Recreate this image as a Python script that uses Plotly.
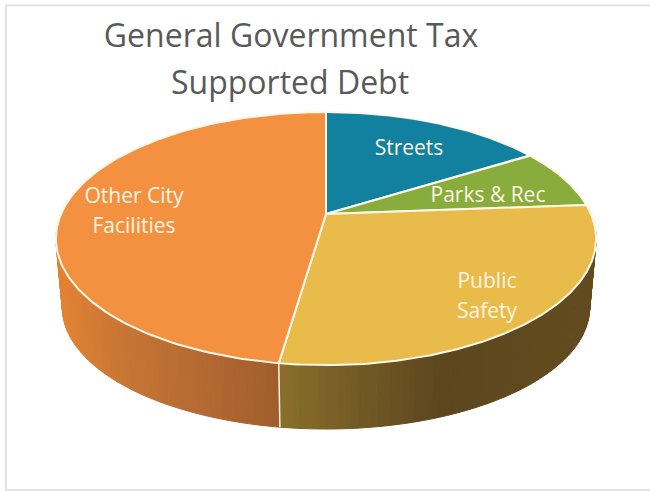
import numpy as np
import plotly.graph_objects as go

# Debt shares by purpose, percent of the total, clockwise from twelve o'clock
categories = ["Streets", "Parks & Rec", "Public Safety", "Other City Facilities"]
shares = [16.1, 7.7, 28.5, 47.7]
face_colors = ["#12809f", "#88ad3c", "#e8bb4a", "#f39140"]

# Caption lines drawn on the slices
caption_lines = ["Streets", "Parks & Rec", "Public", "Safety", "Other City", "Facilities"]
caption_x = [409, 488, 487, 487, 134, 134]
caption_y = [150, 197, 283, 313, 198, 228]

# Rim shading as (pixel x, colour) stops, per slice that shows a rim
rim_stops = {
    2: [(277, (138, 112, 42)), (340, (120, 94, 38)), (440, (92, 70, 30)), (600, (98, 76, 30))],
    3: [(56, (228, 132, 50)), (120, (200, 118, 52)), (200, (180, 106, 50)), (278, (160, 94, 44))],
}

# Tilted-disc projection, in page pixels
CX, CY = 326.0, 214.0
HALF_W, HALF_H, PERSP = 265.0, 121.8, 0.194
RIM_CY0, RIM_CY1, RIM_SX, RIM_SY = 238.0, 307.0, 0.976, 0.96


def top_face(theta):
    u, v = np.sin(theta), np.cos(theta)
    d = 1 + PERSP * v
    return CX + HALF_W * u / d, CY - HALF_H * v / d


def bottom_face(theta):
    x, y = top_face(theta)
    return CX + RIM_SX * (x - CX), RIM_CY1 + RIM_SY * (y - RIM_CY0)


def rim_color(slice_index, x):
    stops = rim_stops[slice_index]
    xs = [s[0] for s in stops]
    rgb = [np.interp(x, xs, [s[1][k] for s in stops]) for k in range(3)]
    return "rgb(%d,%d,%d)" % tuple(int(round(c)) for c in rgb)


edges = np.concatenate([[0.0], np.cumsum(shares)]) / sum(shares) * 2 * np.pi
fig = go.Figure()

# Rim strips, shaded by horizontal position
for i in rim_stops:
    start = max(edges[i], np.pi * 0.35)
    end = min(edges[i + 1], np.pi * 1.65)
    steps = np.linspace(start, end, 90)
    for a, b in zip(steps[:-1], steps[1:]):
        tx, ty = top_face(np.array([a, b]))
        bx, by = bottom_face(np.array([b, a]))
        color = rim_color(i, (tx.mean() + bx.mean()) / 2)
        fig.add_trace(go.Scatter(
            x=list(tx) + list(bx) + [tx[0]], y=list(ty) + list(by) + [ty[0]],
            mode="lines", fill="toself", fillcolor=color,
            line=dict(color=color, width=1), hoverinfo="skip", showlegend=False,
        ))

# Seam where the two rims meet
seam = edges[3]
sx0, sy0 = top_face(seam)
sx1, sy1 = bottom_face(seam)
fig.add_trace(go.Scatter(
    x=[sx0, sx1], y=[sy0, sy1], mode="lines",
    line=dict(color="#fbf3e4", width=1.5), hoverinfo="skip", showlegend=False,
))

# Top faces
for i, name in enumerate(categories):
    theta = np.linspace(edges[i], edges[i + 1], 160)
    ex, ey = top_face(theta)
    fig.add_trace(go.Scatter(
        x=[CX] + list(ex) + [CX], y=[CY] + list(ey) + [CY],
        mode="lines", fill="toself", fillcolor=face_colors[i],
        line=dict(color="#fdf8ea", width=2), name=name,
        text=f"{name}: {shares[i]}%", hoverinfo="text", showlegend=False,
    ))

# Slice captions
fig.add_trace(go.Scatter(
    x=caption_x, y=caption_y, mode="text", text=caption_lines,
    textposition="middle center",
    textfont=dict(family="Open Sans", size=21, color="#fdf5e3"),
    hoverinfo="skip", showlegend=False,
))

title_font = dict(family="Open Sans", size=32, color="#595959")
fig.update_layout(
    width=650, height=492, margin=dict(l=0, r=0, t=0, b=0),
    paper_bgcolor="white", plot_bgcolor="white", showlegend=False,
    title=dict(
        text="General Government Tax",
        x=291 / 650, xanchor="center", y=1 - 36 / 492, yanchor="middle",
        font=title_font,
    ),
    annotations=[dict(
        text="Supported Debt", x=290, y=81, xref="x", yref="y",
        xanchor="center", yanchor="middle", showarrow=False, font=title_font,
    )],
    xaxis=dict(range=[0, 650], visible=False, fixedrange=True),
    yaxis=dict(range=[492, 0], visible=False, fixedrange=True),
    shapes=[dict(type="rect", x0=6, y0=5.5, x1=670, y1=490,
                 line=dict(color="#e2e2e2", width=2), layer="below")],
)

fig.write_html("out.html", config={"displayModeBar": False})
